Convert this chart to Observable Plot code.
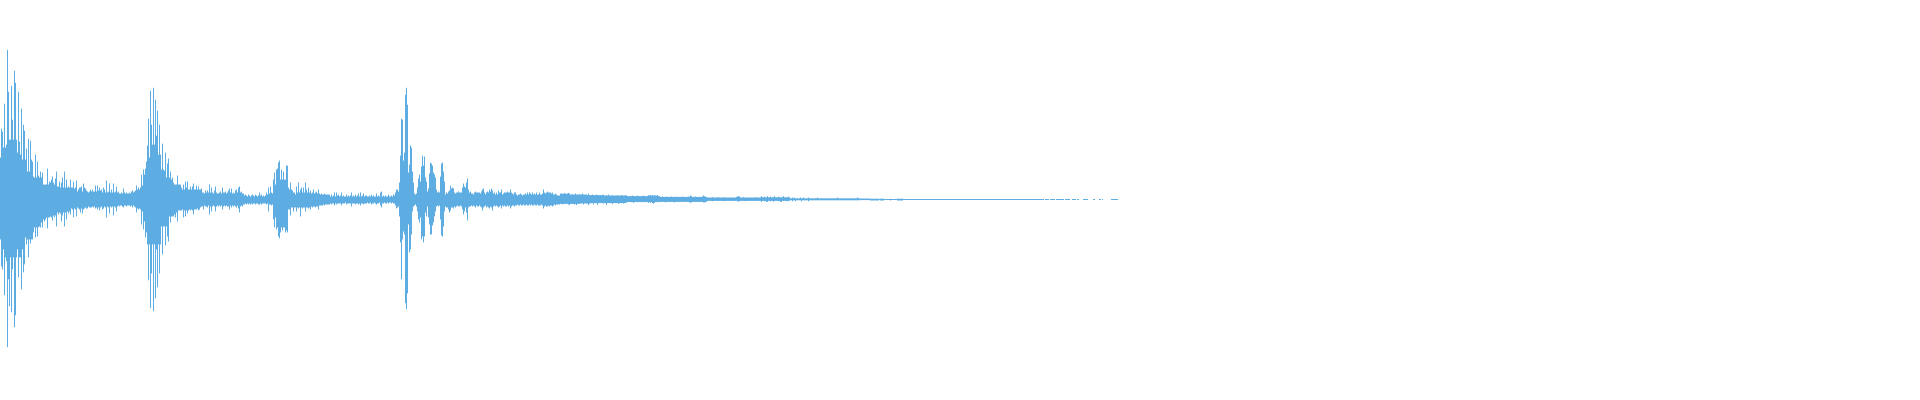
<!DOCTYPE html>
<html>
<head>
<meta charset="utf-8">
<script src="https://cdn.jsdelivr.net/npm/d3@7"></script>
<script src="https://cdn.jsdelivr.net/npm/@observablehq/plot@0.6"></script>
<style>
html, body { margin: 0; padding: 0; background: #ffffff; overflow: hidden; }
#chart svg { display: block; }
</style>
</head>
<body>
<div id="chart"></div>
<script>
// Waveform envelope, one value per sample block, amplitude in % of full scale.
// peaks: maximum above zero; troughs: depth of the minimum below zero.
const peaks = [
// 0-99
21, 35.5, 34, 26, 48, 26, 27.5, 75, 54, 30,
30, 57, 40, 30, 64.5, 58.5, 30, 23.5, 54, 29,
22.5, 45.5, 20, 37.5, 34.5, 20, 25.5, 14, 30.5, 14,
29.5, 20, 19, 11.5, 11, 22.5, 11, 19, 12, 11,
14, 11, 13.5, 7.5, 7.5, 7.5, 7.5, 15.5, 7.5, 9,
8.5, 10, 11.5, 8.5, 7.5, 10.5, 14, 6.5, 6.5, 9,
6, 8.5, 11, 6, 14, 6, 10, 6, 6.5, 6,
10, 6, 6, 9, 5.5, 6, 9.5, 4, 5, 6,
6, 6.5, 4, 8, 6, 5.5, 4.5, 4, 3.5, 4,
5, 4, 5, 4, 4, 7, 4, 7, 4.5, 6,
// 100-199
4.5, 5, 3.5, 6, 5, 3.5, 9.5, 3.5, 4, 8,
3.5, 5, 3.5, 8, 3.5, 4, 6.5, 3.5, 4, 3,
3, 3.5, 3, 5.5, 3.5, 3, 3.5, 3, 3, 3.5,
3, 4, 4.5, 3.5, 4, 4.5, 7, 5, 6, 5,
6, 12.5, 7, 15, 12.5, 15.5, 19, 27, 40.5, 21,
54.5, 37.5, 27.5, 56, 27.5, 50, 32, 44.5, 22.5, 37.5,
22.5, 15, 28, 15, 14.5, 23.5, 11, 18, 20.5, 11,
14, 10, 11, 8.5, 7.5, 7.5, 7.5, 12, 7.5, 7.5,
7.5, 6, 5, 7.5, 5, 9, 6, 9, 5, 5,
6.5, 5, 6.5, 8, 5, 5, 7, 5, 6.5, 5,
// 200-329
5, 5.5, 3.5, 3.5, 3, 4.5, 3.5, 4.5, 3.5, 7.5,
3.5, 6, 3.5, 3, 4.5, 6.5, 3.5, 3, 3, 3.5,
4, 3, 6, 3.5, 3.5, 4, 3, 3.5, 4.5, 5.5,
3.5, 5.5, 3, 3.5, 3, 4.5, 5, 3.5, 6, 6.5,
3.5, 4, 3, 3, 2, 2.5, 2, 1.5, 2.5, 2,
1.5, 2, 2.5, 2, 1.5, 2.5, 2, 1.5, 2, 3.5,
2, 2.5, 1.5, 2, 1.5, 2, 3.5, 2.5, 6, 3,
6.5, 3.5, 3, 10, 13.5, 7.5, 15, 15.5, 18.5, 19.5,
10, 15, 10, 14, 10, 10, 17, 17, 6, 5,
8.5, 5, 4.5, 3.5, 3.5, 2.5, 6.5, 3.5, 8.5, 3.5,
5, 6, 3.5, 6, 3.5, 8.5, 5, 3.5, 6, 3.5,
4.5, 3, 3.5, 5, 3, 3.5, 4, 3, 5, 3,
2.5, 3, 2.5, 2.5, 3, 2.5, 2.5, 2.5, 2.5, 2.5,
// 330-429
1.5, 2.5, 1.5, 2, 3.5, 1.5, 3.5, 2, 2.5, 1.5,
2, 3.5, 1.5, 2, 1.5, 1.5, 2.5, 1.5, 2, 1.5,
2, 3.5, 1.5, 2, 1.5, 2.5, 1.5, 2, 3, 1.5,
3.5, 1.5, 2, 3, 1.5, 2, 2, 1.5, 1.5, 2,
1.5, 2.5, 1.5, 2, 1.5, 1.5, 3, 1.5, 2, 1.5,
3.5, 4, 1.5, 2, 1.5, 2, 1.5, 1.5, 2.5, 1.5,
1.5, 2, 1.5, 2.5, 2, 3.5, 5, 5, 4, 8.5,
22, 40.5, 40, 19.5, 23.5, 52.5, 56, 47.5, 13.5, 17.5,
27, 26, 14, 8.5, 3, 2.5, 3, 6, 10.5, 12.5,
9, 16.5, 22, 17, 21.5, 11, 9, 4, 5.5, 13,
// 430-559
18.5, 18, 17, 13.5, 12.5, 11, 5, 3.5, 4, 3.5,
11.5, 18, 18.5, 14, 9, 2.5, 3.5, 3, 4, 4.5,
7, 5.5, 6, 5.5, 3.5, 3, 3.5, 3.5, 4, 3.5,
3.5, 3.5, 6, 8, 6.5, 6, 8.5, 10.5, 5, 3.5,
4, 3, 3, 2.5, 3.5, 4, 3.5, 3.5, 3.5, 3.5,
3, 4, 5, 5.5, 3.5, 2.5, 3.5, 4, 3.5, 5,
4, 5.5, 4.5, 3, 3.5, 2.5, 3.5, 2.5, 4.5, 3.5,
3.5, 5, 2.5, 3, 3.5, 3.5, 3.5, 4, 3.5, 3.5,
5, 3.5, 3, 2.5, 3.5, 3.5, 2.5, 2, 2.5, 2.5,
3, 2.5, 2, 2.5, 2.5, 3, 2.5, 3.5, 2.5, 3.5,
3, 2.5, 3.5, 2.5, 3, 2.5, 3.5, 2.5, 2.5, 3.5,
2.5, 2.5, 3, 5, 3.5, 3, 3.5, 4, 3.5, 3.5,
3.5, 3, 3.5, 2.5, 2.5, 3, 2.5, 2, 2, 2,
// 560-759
3, 3, 2.8, 3, 3.2, 3, 2.8, 3, 3.3, 3,
2.5, 2.5, 2.7, 2.5, 2.5, 3, 2.5, 2.5, 2.5, 2.7,
2.5, 2.5, 3, 2.5, 2.5, 2.5, 2.5, 2.2, 3, 2.2,
2.2, 2.2, 2.5, 2.2, 2.2, 2.2, 2.5, 2.2, 2.2, 2.2,
2.2, 2.2, 2.2, 2.5, 2, 2, 2.2, 2, 2.5, 2,
2, 2, 2.2, 2, 2, 2, 2, 2.2, 2, 2,
2, 2.2, 2, 2, 2, 2.2, 2, 1.7, 1.7, 1.7,
1.7, 1.7, 2, 1.7, 1.7, 1.7, 1.7, 2, 1.7, 1.7,
1.7, 1.7, 1.7, 2, 1.7, 1.7, 1.7, 1.7, 2.2, 2,
2.2, 2, 2.2, 2, 2.2, 2, 2, 2.2, 1.7, 1.7,
1.3, 1.3, 1.5, 1.3, 1.3, 1.3, 1.5, 1.3, 1.3, 1.3,
1.3, 1.5, 1.3, 1.3, 1.3, 1.3, 1.5, 1.3, 1.3, 1.3,
1.3, 1.3, 1.5, 1.3, 1.3, 1.3, 1.3, 1.3, 1.5, 1.3,
2, 1.7, 1.3, 1.3, 1.3, 1.5, 1.3, 1.3, 1.3, 1.3,
1.3, 1.3, 1.5, 2, 1.7, 1.3, 1.3, 1, 1, 1,
1, 1, 1.2, 1, 1, 1, 1, 1, 1.2, 1,
1, 1, 1, 1, 1.2, 1, 1, 1, 1, 1,
1, 1, 1, 1, 1, 1, 1.3, 1.5, 1.7, 1.5,
1, 1, 1, 1.2, 1, 1, 1, 1, 1, 1,
1, 1, 1, 1, 1, 1.2, 1, 1, 1, 1,
// 760-869
1.1, 1.7, 1.1, 1.1, 1.4, 1.1, 1.1, 1.7, 1.1, 1.1,
1.4, 1.1, 1.1, 1.1, 1.7, 1.1, 1.1, 1.1, 1.4, 1.1,
1.1, 1.1, 1.1, 1.7, 1.1, 1.1, 1.1, 1.1, 1.4, 1.1,
0.6, 0.6, 1, 0.6, 1, 0.6, 0.6, 0.6, 0.6, 0.6,
1, 0.6, 0.6, 1, 0.6, 0.6, 0.6, 0.6, 1, 0.6,
0.6, 0.6, 0.6, 0.6, 0.6, 0.6, 0.6, 1, 0.6, 0.6,
0.6, 0.6, 0.6, 0.6, 0.6, 0.6, 0.6, 0.6, 0.6, 0.6,
0.6, 0.6, 0.6, 0.6, 0.6, 0.6, 0.6, 1, 0.6, 0.6,
0.6, 0.6, 0.6, 0.6, 0.6, 0.6, 0.6, 0.6, 0.6, 0.6,
0.6, 0.6, 0.6, 0.6, 0.6, 0.6, 0.6, 1, 0.6, 0.6,
0.5, 0.5, 0.5, 0.5, 0.5, 0.5, 0.5, 0.5, 0.5, 0.5,
// 870-902
0.4, 0.4, 0.4, 0.4, 0.4, 0.4, 0.4, 0.4, 0.4, 0.25,
0.4, 0.4, 0.4, 0.4, 0.25, 0.25, 0.25, 0.25, 0.25, 0.25,
0.4, 0.25, 0.25, 0.25, 0.25, 0.25, 0.25, 0.4, 0.4, 0.4,
0.4, 0.4, 0.4,
// 903-1042
0.25, 0.25, 0.25, 0.25, 0.25, 0.25, 0.25, 0.25, 0.25, 0.25,
0.25, 0.25, 0.25, 0.25, 0.25, 0.25, 0.25, 0.25, 0.25, 0.25,
0.25, 0.25, 0.25, 0.25, 0.25, 0.25, 0.25, 0.25, 0.25, 0.25,
0.25, 0.25, 0.25, 0.25, 0.25, 0.25, 0.25, 0.25, 0.25, 0.25,
0.25, 0.25, 0.25, 0.25, 0.25, 0.25, 0.25, 0.25, 0.25, 0.25,
0.25, 0.25, 0.25, 0.25, 0.25, 0.25, 0.25, 0.25, 0.25, 0.25,
0.25, 0.25, 0.25, 0.25, 0.25, 0.25, 0.25, 0.25, 0.25, 0.25,
0.25, 0.25, 0.25, 0.25, 0.25, 0.25, 0.25, 0.25, 0.25, 0.25,
0.25, 0.25, 0.25, 0.25, 0.25, 0.25, 0.25, 0.25, 0.25, 0.25,
0.25, 0.25, 0.25, 0.25, 0.25, 0.25, 0.25, 0.25, 0.25, 0.25,
0.25, 0.25, 0.25, 0.25, 0.25, 0.25, 0.25, 0.25, 0.25, 0.25,
0.25, 0.25, 0.25, 0.25, 0.25, 0.25, 0.25, 0.25, 0.25, 0.25,
0.25, 0.25, 0.25, 0.25, 0.25, 0.25, 0.25, 0.25, 0.25, 0.25,
0.25, 0.25, 0.25, 0.25, 0.25, 0.25, 0.25, 0.25, 0.25, 0.25,
// 1043-1117
0.25, 0, 0.25, 0.25, 0.25, 0.25, 0,
0.25, 0.25, 0.25, 0.25, 0.25, 0, 0.25, 0.25, 0.25, 0.25,
0.25, 0.25, 0.25, 0.25, 0, 0.25, 0.25, 0.25, 0.25, 0.25,
0, 0, 0.25, 0.25, 0.25, 0.25, 0, 0.25, 0.25, 0,
0, 0, 0, 0.25, 0.25, 0.25, 0.25, 0.25, 0, 0,
0, 0, 0, 0.25, 0.25, 0, 0, 0, 0, 0.25,
0.25, 0, 0.25, 0, 0, 0, 0, 0, 0, 0,
0, 0.25, 0.25, 0.25, 0.25, 0.25, 0.25, 0.25
];

const troughs = [
// 0-99
20, 33.5, 35, 25, 48, 29, 31, 74, 40, 53.5,
29, 56.5, 35, 29, 64, 58, 29, 25, 39, 29,
29, 45, 25, 36.5, 32.5, 19, 22.5, 20, 29, 20,
22, 20, 20, 16.5, 14, 19, 14, 18.5, 14, 13.5,
14, 11.5, 14, 10, 11, 10, 9, 14.5, 9, 9,
8.5, 9, 10.5, 8, 9, 8, 13.5, 6.5, 7.5, 6.5,
7, 11, 8, 6.5, 13.5, 6.5, 10, 6, 7, 6,
7.5, 4.5, 5, 9, 4.5, 5, 8.5, 4, 4.5, 5,
6.5, 4.5, 7, 5, 4.5, 4, 4.5, 4.5, 3.5, 4,
4, 4, 3.5, 4, 3.5, 4.5, 4, 5, 4, 5.5,
// 100-199
4, 3.5, 5, 4.5, 3.5, 4, 9, 3.5, 4, 7,
3.5, 4, 3.5, 8, 3.5, 4, 6, 3.5, 3, 3.5,
3, 3, 3.5, 4, 3, 3, 3.5, 3, 3, 3,
3.5, 3, 4, 3, 3.5, 4, 6.5, 4.5, 5, 4.5,
5, 12.5, 6, 15, 11, 19, 16.5, 22.5, 40.5, 22.5,
54.5, 37, 22.5, 56, 22.5, 49.5, 25, 44, 22.5, 37,
22.5, 13.5, 27.5, 13.5, 13.5, 23, 13.5, 18.5, 21, 8.5,
11.5, 8.5, 8.5, 8.5, 7.5, 9, 6.5, 11, 5.5, 5.5,
5.5, 5.5, 5, 9, 5.5, 8.5, 5.5, 7, 5.5, 5,
5.5, 5, 5.5, 7.5, 5, 5, 5, 4.5, 5.5, 5,
// 200-329
4, 3.5, 3.5, 5, 3, 3.5, 3.5, 4, 3, 7.5,
3.5, 6, 3.5, 3, 3.5, 6, 3.5, 3, 3.5, 3,
3.5, 3, 5, 3.5, 3, 3.5, 3, 3.5, 3.5, 5,
3, 4, 3, 3.5, 3, 3.5, 4, 3, 4.5, 6.5,
3.5, 3, 3.5, 2.5, 2.5, 2, 2.5, 2, 2.5, 2,
2.5, 2, 2.5, 2, 2, 2.5, 2, 2, 2.5, 2.5,
2, 2.5, 2, 2, 2, 2, 2.5, 2, 6, 2.5,
2.5, 3, 2.5, 10, 14, 9, 15, 14, 18.5, 19.5,
16.5, 14, 15.5, 14, 14, 16.5, 15.5, 16.5, 5, 5,
8, 4, 4, 6, 4, 4, 6, 4, 4.5, 4,
8.5, 4, 4.5, 4, 4, 6, 4, 4, 4.5, 4,
5, 3.5, 4, 3.5, 3.5, 4, 3.5, 3.5, 5, 3,
3, 3, 3, 2.5, 3, 2.5, 2.5, 2.5, 2.5, 2.5,
// 330-429
2, 2.5, 2, 2, 3, 2, 2.5, 2, 2, 2,
2, 3, 2, 2, 2, 1.5, 2.5, 2, 2, 2,
2, 3.5, 2, 2, 2, 2.5, 2, 2, 2.5, 2,
3, 2, 2, 2.5, 2, 2, 2, 1.5, 2, 2,
1.5, 2.5, 2, 2, 1.5, 2, 2.5, 2, 2, 1.5,
3, 4, 2, 2, 1.5, 2, 2, 1.5, 2, 1.5,
1.5, 2, 1.5, 2, 2, 3, 4.5, 4, 3.5, 8.5,
21.5, 40, 20, 16, 17.5, 52, 55, 47, 12.5, 26.5,
25, 17.5, 6, 3.5, 3, 2.5, 3.5, 6, 10, 11.5,
9, 20, 18.5, 21.5, 18.5, 6.5, 8.5, 3.5, 9, 12.5,
// 430-559
17.5, 17.5, 13, 11.5, 8.5, 6, 3.5, 3, 3.5, 3,
10, 18, 18.5, 13.5, 6, 3.5, 4, 4, 5, 6.5,
5.5, 4, 4, 4.5, 3.5, 4, 3.5, 3, 3.5, 3.5,
3, 3.5, 5, 7.5, 6, 4, 6.5, 10.5, 4, 3.5,
3.5, 3, 3.5, 3, 3.5, 4, 3, 3.5, 3.5, 3,
3.5, 4, 5.5, 4, 3.5, 3, 4, 3.5, 4, 4.5,
3.5, 4, 5.5, 3.5, 3, 3.5, 3, 3.5, 4, 3.5,
3, 4.5, 3, 3.5, 3, 3.5, 3.5, 3, 3.5, 3,
4.5, 3.5, 3, 3, 3.5, 3, 3, 2.5, 3, 3,
2.5, 3, 3, 2.5, 3, 3, 2.5, 3, 3, 2.5,
3, 2.5, 3, 3, 2.5, 3, 3, 2.5, 3, 3,
3, 2.5, 3, 4.5, 3.5, 3, 3.5, 3.5, 3, 3.5,
3, 3, 3.5, 3, 2.5, 3, 2.5, 2.5, 2.5, 2.5,
// 560-759
2.2, 2.2, 2.5, 2.2, 2.2, 2.2, 2.2, 2.2, 2.5, 2.8,
2.2, 2.2, 2.2, 2.2, 2.5, 2.2, 2.8, 2.2, 2.2, 2.2,
2, 2, 2, 2.5, 2, 2, 2, 2, 2.8, 2,
2, 1.8, 1.8, 2.5, 1.8, 1.8, 1.8, 2.8, 1.8, 1.8,
1.8, 1.8, 1.8, 2, 1.8, 1.8, 2.8, 1.8, 1.8, 1.8,
1.8, 1.8, 2.2, 1.8, 1.8, 1.8, 1.8, 1.8, 2.2, 1.8,
1.8, 1.8, 1.8, 2, 1.8, 1.8, 1.5, 1.3, 1.3, 1.3,
1.3, 1.3, 1.3, 1.7, 1.3, 1.3, 1.3, 1.3, 1.3, 1.3,
1.3, 1.3, 1.3, 1.3, 1.3, 1.3, 1.3, 1.3, 1.7, 1.3,
1.7, 1.3, 1.7, 2, 1.7, 1.3, 1.3, 1.3, 1.3, 1.3,
1.2, 1.2, 1.2, 1.2, 1.2, 1.5, 1.2, 1.2, 1.2, 1.2,
1.2, 1.2, 1.2, 1.2, 1.5, 1.2, 1.2, 1.2, 1.2, 1.2,
1.2, 1.2, 1.2, 1.2, 1.2, 1.2, 1.2, 1.2, 1.2, 1.5,
1.5, 1.5, 1.2, 1.2, 1.2, 1.2, 1.2, 1.2, 1.2, 1.2,
1.2, 1.2, 1.2, 1.5, 1.5, 1.2, 1.2, 0.7, 0.7, 0.7,
0.7, 0.7, 0.9, 0.7, 0.7, 0.7, 0.7, 0.7, 0.7, 0.7,
0.7, 0.7, 0.7, 0.7, 0.9, 0.7, 0.7, 0.7, 0.7, 0.7,
0.7, 0.7, 0.7, 0.7, 0.7, 0.7, 0.7, 0.9, 1, 0.9,
0.7, 0.7, 0.7, 0.7, 0.7, 0.9, 0.7, 0.7, 0.7, 0.7,
0.7, 0.7, 0.7, 0.7, 0.7, 0.7, 0.7, 0.7, 0.7, 0.7,
// 760-869
0.7, 1.2, 0.7, 0.7, 0.9, 0.7, 1.2, 1.2, 0.7, 0.7,
0.9, 0.7, 0.7, 1.2, 0.7, 0.7, 0.7, 0.7, 0.9, 0.7,
1.2, 1.2, 0.7, 0.7, 0.7, 0.7, 0.7, 0.9, 0.7, 0.7,
0.4, 0.4, 0.9, 0.4, 0.4, 0.9, 0.4, 0.4, 0.4, 0.4,
0.4, 0.9, 0.4, 0.4, 0.4, 0.4, 0.4, 0.4, 0.9, 0.4,
0.4, 0.4, 0.4, 0.4, 0.4, 0.4, 0.4, 0.4, 0.4, 0.4,
0.4, 0.4, 0.4, 0.4, 0.4, 0.4, 0.4, 0.4, 0.4, 0.4,
0.4, 0.4, 0.4, 0.4, 0.4, 0.4, 0.4, 0.4, 0.4, 0.4,
0.4, 0.4, 0.4, 0.4, 0.4, 0.4, 0.4, 0.4, 0.4, 0.4,
0.4, 0.4, 0.4, 0.4, 0.4, 0.4, 0.4, 0.4, 0.4, 0.4,
0.3, 0.3, 0.3, 0.3, 0.3, 0.3, 0.3, 0.3, 0.3, 0.3,
// 870-902
0.5, 0.5, 0.5, 0.5, 0.5, 0.5, 0.5, 0.5, 0.5, 0.25,
0.5, 0.5, 0.5, 0.5, 0.25, 0.25, 0.25, 0.25, 0.25, 0.25,
0.5, 0.25, 0.25, 0.25, 0.25, 0.25, 0.25, 0.5, 0.5, 0.5,
0.5, 0.5, 0.5,
// 903-1042
0.25, 0.25, 0.25, 0.25, 0.25, 0.25, 0.25, 0.25, 0.25, 0.25,
0.25, 0.25, 0.25, 0.25, 0.25, 0.25, 0.25, 0.25, 0.25, 0.25,
0.25, 0.25, 0.25, 0.25, 0.25, 0.25, 0.25, 0.25, 0.25, 0.25,
0.25, 0.25, 0.25, 0.25, 0.25, 0.25, 0.25, 0.25, 0.25, 0.25,
0.25, 0.25, 0.25, 0.25, 0.25, 0.25, 0.25, 0.25, 0.25, 0.25,
0.25, 0.25, 0.25, 0.25, 0.25, 0.25, 0.25, 0.25, 0.25, 0.25,
0.25, 0.25, 0.25, 0.25, 0.25, 0.25, 0.25, 0.25, 0.25, 0.25,
0.25, 0.25, 0.25, 0.25, 0.25, 0.25, 0.25, 0.25, 0.25, 0.25,
0.25, 0.25, 0.25, 0.25, 0.25, 0.25, 0.25, 0.25, 0.25, 0.25,
0.25, 0.25, 0.25, 0.25, 0.25, 0.25, 0.25, 0.25, 0.25, 0.25,
0.25, 0.25, 0.25, 0.25, 0.25, 0.25, 0.25, 0.25, 0.25, 0.25,
0.25, 0.25, 0.25, 0.25, 0.25, 0.25, 0.25, 0.25, 0.25, 0.25,
0.25, 0.25, 0.25, 0.25, 0.25, 0.25, 0.25, 0.25, 0.25, 0.25,
0.25, 0.25, 0.25, 0.25, 0.25, 0.25, 0.25, 0.25, 0.25, 0.25,
// 1043-1117
0.25, 0, 0.25, 0.25, 0.25, 0.25, 0,
0.25, 0.25, 0.25, 0.25, 0.25, 0, 0.25, 0.25, 0.25, 0.25,
0.25, 0.25, 0.25, 0.25, 0, 0.25, 0.25, 0.25, 0.25, 0.25,
0, 0, 0.25, 0.25, 0.25, 0.25, 0, 0.25, 0.25, 0,
0, 0, 0, 0.25, 0.25, 0.25, 0.25, 0.25, 0, 0,
0, 0, 0, 0.25, 0.25, 0, 0, 0, 0, 0.25,
0.25, 0, 0.25, 0, 0, 0, 0, 0, 0, 0,
0, 0.25, 0.25, 0.25, 0.25, 0.25, 0.25, 0.25
];

// Total number of sample blocks across the width (the recording is followed by silence).
const totalBlocks = 1920;
const waveColor = "#5dade2";

const rows = peaks.map((p, i) => ({
  block: i,
  blockEnd: i + 1,
  max: p,
  min: -(troughs[i] ?? 0)
})).filter(d => d.max - d.min > 0);

const chart = Plot.plot({
  width: 1920,
  height: 400,
  marginTop: 0,
  marginRight: 0,
  marginLeft: 0,
  marginBottom: 1,
  x: {domain: [0, totalBlocks], axis: null},
  y: {domain: [-100, 100], axis: null},
  marks: [
    Plot.rect(rows, {x1: "block", x2: "blockEnd", y1: "min", y2: "max", fill: waveColor})
  ]
});
document.getElementById("chart").append(chart);
</script>
</body>
</html>
